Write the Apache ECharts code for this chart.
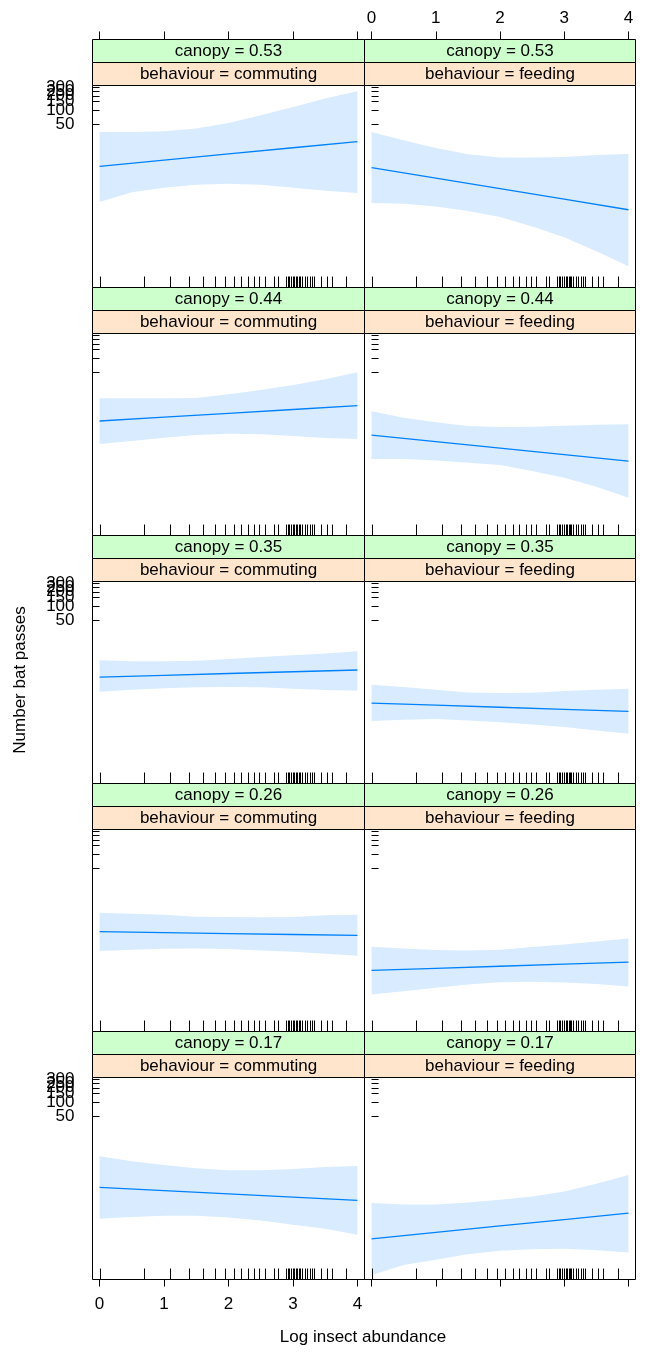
<!DOCTYPE html>
<html>
<head>
<meta charset="utf-8">
<script src="https://cdn.jsdelivr.net/npm/echarts@6/dist/echarts.min.js"></script>
<style>
  html, body { margin: 0; padding: 0; background: #fff; }
  #chart { width: 647px; height: 1352px; }
</style>
</head>
<body>
<div id="chart"></div>
<script>
// ---- data -------------------------------------------------------------
const canopyLevels = ['0.53', '0.44', '0.35', '0.26', '0.17'];
const behaviours = ['commuting', 'feeding'];
const xFit = [0, 1, 2, 3, 4];                              // where the fitted line is evaluated
const xBand = [0, 0.5, 1, 1.5, 2, 2.5, 3, 3.5, 4];         // where the 95% limits are evaluated
const xTicks = [0, 1, 2, 3, 4];
const yTicks = [50, 100, 150, 200, 250, 300];

// observed log insect abundance (rug)
const rugX = [0, 0.69, 1.10, 1.39, 1.61, 1.79, 1.95, 2.08, 2.20, 2.30, 2.40, 2.48, 2.56,
  2.71, 2.77, 2.89, 2.92, 2.94, 2.97, 3.00, 3.02, 3.04, 3.07, 3.09, 3.11, 3.14, 3.18,
  3.22, 3.26, 3.30, 3.33, 3.43, 3.53, 3.61, 3.83];

// fitted number of bat passes (at xFit) with lower / upper 95% limits (at xBand)
const fit053Commuting = [6.39, 8.63, 11.7, 15.8, 21.3];
const lo053Commuting  = [1.12, 1.79, 2.25, 2.60, 2.73, 2.60, 2.25, 1.94, 1.73];
const hi053Commuting  = [34.2, 34.2, 35.4, 40.3, 53.2, 77.4, 116, 175, 250];
const fit053Feeding   = [5.98, 3.58, 2.14, 1.28, 0.766];
const lo053Feeding    = [1.06, 1.03, 0.90, 0.717, 0.535, 0.339, 0.201, 0.101, 0.0487];
const hi053Feeding    = [34.2, 22.8, 15.6, 11.5, 9.76, 9.76, 10.07, 11.1, 11.67];

const fit044Commuting = [4.60, 5.56, 6.70, 8.08, 9.76];
const lo044Commuting  = [1.49, 1.73, 2.04, 2.32, 2.48, 2.40, 2.21, 2.01, 1.91];
const hi044Commuting  = [13.96, 13.96, 13.96, 14.2, 17.0, 21.0, 26.8, 35.4, 49.8];
const fit044Feeding   = [2.32, 1.69, 1.23, 0.895, 0.651];
const lo044Feeding    = [0.717, 0.717, 0.672, 0.600, 0.535, 0.399, 0.288, 0.185, 0.108];
const hi044Feeding    = [7.39, 5.42, 4.31, 3.61, 3.43, 3.49, 3.67, 3.85, 3.91];

const fit035Commuting = [3.11, 3.39, 3.70, 4.03, 4.39];
const lo035Commuting  = [1.52, 1.68, 1.79, 1.88, 1.91, 1.88, 1.76, 1.65, 1.60];
const hi035Commuting  = [7.04, 6.70, 6.70, 6.92, 7.51, 8.28, 8.99, 9.76, 10.93];
const fit035Feeding   = [0.873, 0.788, 0.712, 0.643, 0.580];
const lo035Feeding    = [0.362, 0.386, 0.399, 0.374, 0.344, 0.307, 0.270, 0.229, 0.195];
const hi035Feeding    = [2.14, 1.91, 1.68, 1.47, 1.42, 1.45, 1.57, 1.68, 1.76];

const fit026Commuting = [2.25, 2.15, 2.05, 1.96, 1.88];
const lo026Commuting  = [0.873, 0.931, 0.978, 0.994, 0.962, 0.902, 0.845, 0.766, 0.695];
const hi026Commuting  = [5.69, 5.42, 5.16, 4.68, 4.60, 4.53, 4.60, 5.00, 5.16];
const fit026Feeding   = [0.339, 0.375, 0.416, 0.460, 0.510];
const lo026Feeding    = [0.105, 0.123, 0.145, 0.171, 0.191, 0.195, 0.188, 0.174, 0.155];
const hi026Feeding    = [1.08, 0.994, 0.917, 0.902, 0.931, 1.06, 1.21, 1.40, 1.62];

const fit017Commuting = [1.55, 1.32, 1.12, 0.96, 0.818];
const lo017Commuting  = [0.333, 0.362, 0.386, 0.386, 0.356, 0.307, 0.249, 0.205, 0.152];
const hi017Commuting  = [7.04, 5.51, 4.60, 3.91, 3.55, 3.55, 3.79, 4.18, 4.39];
const fit017Feeding   = [0.125, 0.171, 0.235, 0.321, 0.440];
const lo017Feeding    = [0.0215, 0.0351, 0.0449, 0.0592, 0.0697, 0.0756, 0.0768, 0.0720, 0.0643];
const hi017Feeding    = [0.717, 0.672, 0.672, 0.742, 0.845, 0.994, 1.27, 1.85, 2.82];

const panelData = [
  [[fit053Commuting, lo053Commuting, hi053Commuting], [fit053Feeding, lo053Feeding, hi053Feeding]],
  [[fit044Commuting, lo044Commuting, hi044Commuting], [fit044Feeding, lo044Feeding, hi044Feeding]],
  [[fit035Commuting, lo035Commuting, hi035Commuting], [fit035Feeding, lo035Feeding, hi035Feeding]],
  [[fit026Commuting, lo026Commuting, hi026Commuting], [fit026Feeding, lo026Feeding, hi026Feeding]],
  [[fit017Commuting, lo017Commuting, hi017Commuting], [fit017Feeding, lo017Feeding, hi017Feeding]]
];

// ---- layout & style ---------------------------------------------------
const FONT = '"Liberation Sans", Arial, Helvetica, sans-serif';
const FS = 17;
const COL_LEFT = [92.5, 364.5];
const COL_W = [272, 271];
const ROW_TOP0 = 85.5;
const ROW_PITCH = 248;
const PLOT_H = 202;
const STRIP_H = 23;
const X_MIN = -0.11, X_MAX = 4.11;
const Y_MIN = 0.0172, Y_MAX = 330;
const Y_LABEL_GAP = 18;
const LINE_COLOR = '#0080FF';
const BAND_COLOR = '#D9ECFF';
const STRIP_OUTER = '#CCFFCC';
const STRIP_INNER = '#FFE5CC';
const RUG_LEN = 11;

const labelStyle = { fontSize: FS, fontFamily: FONT, color: '#000' };
const tickStyle = { color: '#000', width: 1 };

const grids = [], xAxes = [], yAxes = [], series = [], graphics = [];
const labelledY = [];   // y axes whose tick labels are drawn (left column, alternate rows)

canopyLevels.forEach((canopy, r) => {
  behaviours.forEach((beh, c) => {
    const gi = grids.length;
    const left = COL_LEFT[c];
    const top = ROW_TOP0 + r * ROW_PITCH;
    const [fit, lo, hi] = panelData[r][c];

    grids.push({
      left: left, top: top, width: COL_W[c], height: PLOT_H,
      show: true, borderColor: '#000', borderWidth: 1, backgroundColor: 'transparent'
    });

    // bottom x axis
    const xi = xAxes.length;
    xAxes.push({
      gridIndex: gi, type: 'value', min: X_MIN, max: X_MAX, position: 'bottom',
      axisLine: { show: false }, splitLine: { show: false },
      axisTick: { show: r === 4, customValues: xTicks, length: 7, lineStyle: tickStyle },
      axisLabel: Object.assign({ show: r === 4 && c === 0, customValues: xTicks, margin: 16,
        showMinLabel: true, showMaxLabel: true }, labelStyle)
    });
    // top x axis above the strips of the first row
    if (r === 0) {
      xAxes.push({
        gridIndex: gi, type: 'value', min: X_MIN, max: X_MAX, position: 'top',
        offset: 2 * STRIP_H,
        axisLine: { show: false }, splitLine: { show: false },
        axisTick: { show: true, customValues: xTicks, length: 8, lineStyle: tickStyle },
        axisLabel: Object.assign({ show: c === 1, customValues: xTicks, margin: 13,
          showMinLabel: true, showMaxLabel: true }, labelStyle)
      });
    }

    // log y axis (ticks here; the crowded labels are placed after layout)
    yAxes.push({
      gridIndex: gi, type: 'log', min: Y_MIN, max: Y_MAX,
      position: c === 0 ? 'left' : 'right',
      axisLine: { show: false }, splitLine: { show: false },
      axisTick: { show: true, customValues: yTicks, length: 7, lineStyle: tickStyle },
      axisLabel: { show: false }
    });
    if (c === 0 && r % 2 === 0) labelledY.push(gi);

    // confidence band
    series.push({
      type: 'custom', xAxisIndex: xi, yAxisIndex: gi, clip: true, silent: true,
      data: xBand.map((x, k) => [x, lo[k], hi[k]]),
      encode: { x: 0, y: [1, 2] },
      renderItem: function (params, api) {
        if (params.dataIndexInside !== 0) return null;
        const n = params.dataInsideLength;
        const pts = [];
        for (let k = 0; k < n; k++) pts.push(api.coord([api.value(0, k), api.value(2, k)]));
        for (let k = n - 1; k >= 0; k--) pts.push(api.coord([api.value(0, k), api.value(1, k)]));
        return { type: 'polygon', shape: { points: pts }, style: { fill: BAND_COLOR, stroke: null } };
      },
      z: 1
    });

    // fitted effect
    series.push({
      type: 'line', xAxisIndex: xi, yAxisIndex: gi, silent: true,
      data: xFit.map((x, k) => [x, fit[k]]),
      showSymbol: false, symbol: 'none',
      lineStyle: { color: LINE_COLOR, width: 1.3 },
      z: 3
    });

    // rug of observed values along the bottom of the panel
    series.push({
      type: 'custom', xAxisIndex: xi, yAxisIndex: gi, clip: false, silent: true,
      data: rugX.map(x => [x, Y_MIN]),
      encode: { x: 0, y: 1 },
      renderItem: function (params, api) {
        const p = api.coord([api.value(0), api.value(1)]);
        const x = Math.round(p[0]) + 0.5;
        return { type: 'line', shape: { x1: x, y1: p[1], x2: x, y2: p[1] - RUG_LEN },
          style: { stroke: '#000', lineWidth: 1 } };
      },
      z: 4
    });

    // strips: canopy (outer) above behaviour (inner)
    const w = COL_W[c];
    const outerY = top - 2 * STRIP_H, innerY = top - STRIP_H;
    graphics.push({ type: 'rect', shape: { x: left, y: outerY, width: w, height: STRIP_H },
      style: { fill: STRIP_OUTER, stroke: '#000', lineWidth: 1 }, z: 10 });
    graphics.push({ type: 'rect', shape: { x: left, y: innerY, width: w, height: STRIP_H },
      style: { fill: STRIP_INNER, stroke: '#000', lineWidth: 1 }, z: 10 });
    graphics.push({ type: 'text', x: left + w / 2, y: outerY + STRIP_H / 2 + 0.5, z: 11,
      style: { text: 'canopy = ' + canopy, align: 'center', verticalAlign: 'middle',
        fontSize: FS, fontFamily: FONT, fill: '#000' } });
    graphics.push({ type: 'text', x: left + w / 2, y: innerY + STRIP_H / 2 + 0.5, z: 11,
      style: { text: 'behaviour = ' + beh, align: 'center', verticalAlign: 'middle',
        fontSize: FS, fontFamily: FONT, fill: '#000' } });
  });
});

// axis titles
graphics.push({ type: 'text', x: 20, y: 680, rotation: Math.PI / 2, z: 11,
  style: { text: 'Number bat passes', align: 'center', verticalAlign: 'middle',
    fontSize: FS, fontFamily: FONT, fill: '#000' } });
graphics.push({ type: 'text', x: 363, y: 1337, z: 11,
  style: { text: 'Log insect abundance', align: 'center', verticalAlign: 'middle',
    fontSize: FS, fontFamily: FONT, fill: '#000' } });

const chart = echarts.init(document.getElementById('chart'), null, { renderer: 'canvas' });
chart.setOption({
  animation: false,
  backgroundColor: '#fff',
  grid: grids,
  xAxis: xAxes,
  yAxis: yAxes,
  series: series
});

// y tick labels: every one drawn, overlapping as they fall on the log scale
labelledY.forEach(gi => {
  yTicks.forEach(v => {
    const y = chart.convertToPixel({ yAxisIndex: gi }, v);
    graphics.push({ type: 'text', x: COL_LEFT[0] - Y_LABEL_GAP, y: y, z: 11,
      style: { text: String(v), align: 'right', verticalAlign: 'middle',
        fontSize: FS, fontFamily: FONT, fill: '#000' } });
  });
});
chart.setOption({ graphic: { elements: graphics } });
</script>
</body>
</html>
